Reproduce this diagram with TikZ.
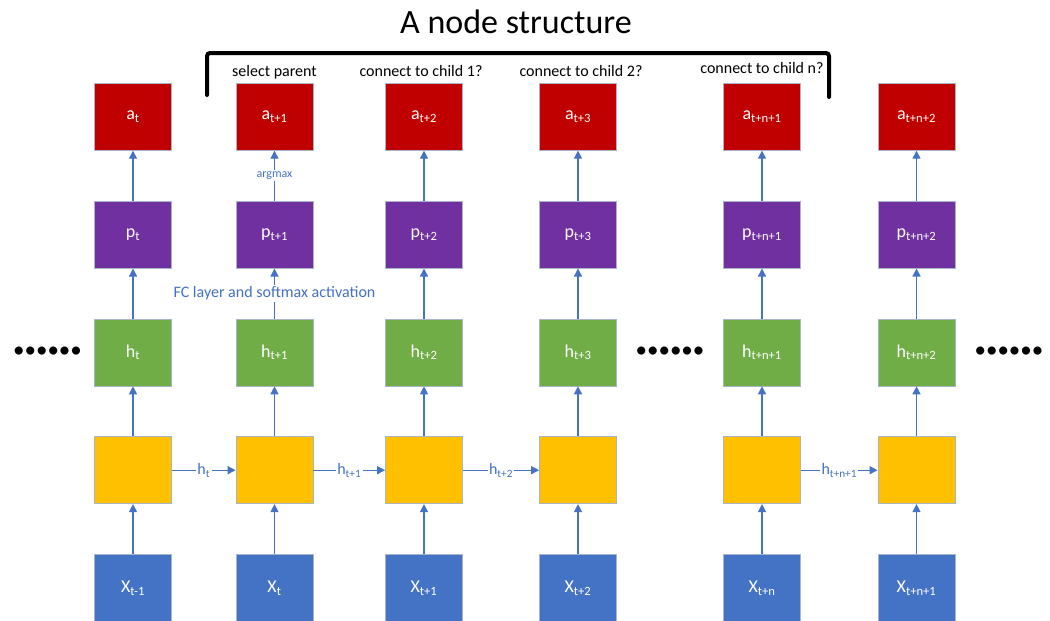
\documentclass[tikz,border=0pt]{standalone}
\usepackage{fontspec}
\setmainfont{Carlito}
\usetikzlibrary{arrows.meta,positioning,calc}
\definecolor{inblue}{HTML}{4472C4}
\definecolor{cellyellow}{HTML}{FFC000}
\definecolor{hidgreen}{HTML}{70AD47}
\definecolor{probpurple}{HTML}{7030A0}
\definecolor{actred}{HTML}{C00000}
\definecolor{edgegray}{HTML}{A9B4C8}

\begin{document}
\begin{tikzpicture}[x=1pt, y=1pt, node distance=50pt,
  every node/.style={font=\fontsize{16}{19}\selectfont},
  cell/.style={draw=edgegray, line width=0.8pt, minimum width=77pt, minimum height=67pt, inner sep=0pt, text=white, font=\fontsize{18}{21}\selectfont},
  flow/.style={-{Triangle[width=8pt, length=8pt]}, draw=inblue, line width=1.3pt},
  tag/.style={fill=white, text=inblue, inner sep=1.5pt, font=\fontsize{16}{19}\selectfont},
  note/.style={text height=1.45ex, text depth=0.3ex, inner sep=0pt},
  dots/.style={font=\fontsize{23}{23}\selectfont, inner sep=0pt}]
\useasboundingbox (0,0) rectangle (1050,-621);

% one column per time step
\foreach \c/\px/\ti/\tx in {1/133/t/t-1, 2/274.5/t+1/t, 3/424/t+2/t+1, 4/578/t+3/t+2, 5/762/t+n+1/t+n, 6/916.5/t+n+2/t+n+1} {
  \node[cell, fill=inblue] (x\c) at (\px,-588) {X\textsubscript{\tx}};
  \node[cell, fill=cellyellow, above=of x\c] (r\c) {};
  \node[cell, fill=hidgreen, above=of r\c] (h\c) {h\textsubscript{\ti}};
  \node[cell, fill=probpurple, above=of h\c] (p\c) {p\textsubscript{\ti}};
  \node[cell, fill=actred, above=of p\c] (a\c) {a\textsubscript{\ti}};
  \draw[flow] (x\c) -- (r\c);
  \draw[flow] (r\c) -- (h\c);
  \draw[flow] (h\c) -- (p\c);
  \draw[flow] (p\c) -- (a\c);
}

% recurrent state
\draw[flow] (r1) -- node[tag]{h\textsubscript{t}} (r2);
\draw[flow] (r2) -- node[tag]{h\textsubscript{t+1}} (r3);
\draw[flow] (r3) -- node[tag]{h\textsubscript{t+2}} (r4);
\draw[flow] (r5) -- node[tag]{h\textsubscript{t+n+1}} (r6);

\path (p2) -- node[tag, font=\fontsize{12}{14}\selectfont]{argmax} (a2);
\path (h2) -- node[tag, font=\fontsize{16}{19}\selectfont]{FC layer and softmax activation} (p2);

\node[dots, left=12pt of h1] (dl) {\textbullet\textbullet\textbullet\textbullet\textbullet\textbullet};
\node[dots] (dm) at ($(h4.east)!0.5!(h5.west)$) {\textbullet\textbullet\textbullet\textbullet\textbullet\textbullet};
\node[dots, right=19pt of h6] (dr) {\textbullet\textbullet\textbullet\textbullet\textbullet\textbullet};

% node structure bracket
\draw[line width=4pt, line cap=round, rounded corners=3pt] (207,-95) -- (207,-53) -- (829,-53) -- (829,-97);
\node[font=\fontsize{34}{40}\selectfont] (title) at (516,-22) {A node structure};
\node[note, above=5pt of a2] (lsel) {select parent};
\node[note, above=5pt of a3, xshift=-3pt] (lc1) {connect to child 1?};
\node[note, above=5pt of a4, xshift=3pt] (lc2) {connect to child 2?};
\node[note, above=8pt of a5] (lcn) {connect to child n?};
\end{tikzpicture}
\end{document}
